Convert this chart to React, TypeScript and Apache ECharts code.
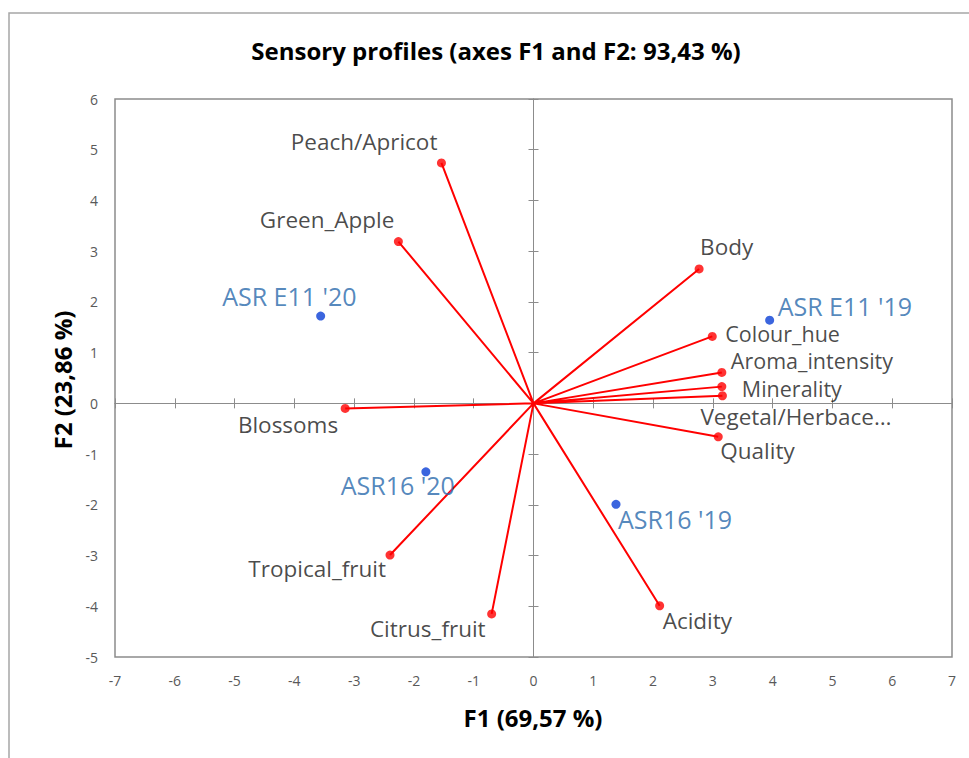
import React, { useEffect, useRef } from "react";
import * as echarts from "echarts";

// Variables (active, red vectors)
const varNames = [
  "Peach/Apricot",
  "Green_Apple",
  "Blossoms",
  "Tropical_fruit",
  "Citrus_fruit",
  "Acidity",
  "Quality",
  "Body",
  "Colour_hue",
  "Aroma_intensity",
  "Minerality",
  "Vegetal/Herbace…",
];
const varF1 = [-1.54, -2.26, -3.15, -2.4, -0.7, 2.11, 3.09, 2.77, 2.99, 3.15, 3.15, 3.16];
const varF2 = [4.74, 3.19, -0.1, -2.99, -4.15, -3.99, -0.66, 2.65, 1.32, 0.61, 0.33, 0.15];

// Observations (blue points)
const obsNames = ["ASR E11 '19", "ASR E11 '20", "ASR16 '20", "ASR16 '19"];
const obsF1 = [3.95, -3.56, -1.8, 1.38];
const obsF2 = [1.64, 1.72, -1.35, -1.99];

const axisMin = { x: -7, y: -5 };
const axisMax = { x: 7, y: 6 };

const TITLE = "Sensory profiles (axes F1 and F2: 93,43 %)";
const X_TITLE = "F1 (69,57 %)";
const Y_TITLE = "F2 (23,86 %)";

// label placement (styling), keyed by name: [dx, dy, align, fontSize?]
const labelLayout: Record<string, [number, number, string, number?]> = {
  "Peach/Apricot": [-4, -21, "right"],
  Green_Apple: [-4, -22, "right"],
  Blossoms: [-7, 16, "right"],
  Tropical_fruit: [-4, 13, "right"],
  Citrus_fruit: [-6, 15, "right"],
  Acidity: [3, 15, "left"],
  Quality: [2, 14, "left"],
  Body: [1, -22, "left"],
  Colour_hue: [13, -2.5, "left", 21.5],
  Aroma_intensity: [9, -12, "left", 21.5],
  Minerality: [20, 1.5, "left", 21.5],
  "Vegetal/Herbace…": [-22, 21, "left"],
  "ASR E11 '19": [8, -14, "left"],
  "ASR E11 '20": [36, -20, "right"],
  "ASR16 '20": [29, 13, "right"],
  "ASR16 '19": [2, 15, "left"],
};

const FONT = "'Open Sans'";

export default function App() {
  const ref = useRef<HTMLDivElement>(null);
  useEffect(() => {
    if (!ref.current) return;
    const chart = echarts.init(ref.current, undefined, { renderer: "svg" });

    const lineData: any[] = [];
    varNames.forEach((_, i) => {
      lineData.push([0, 0]);
      lineData.push([varF1[i], varF2[i]]);
      lineData.push("-");
    });

    const mkLabel = (name: string, color: string, size: number) => {
      const l = labelLayout[name] || [0, 0, "left"];
      return {
        show: true,
        position: "inside",
        offset: [l[0], l[1]],
        align: l[2],
        verticalAlign: "middle",
        formatter: name,
        color,
        fontSize: l[3] || size,
        fontFamily: FONT,
      };
    };

    const baseX = {
      type: "value",
      min: axisMin.x,
      max: axisMax.x,
      interval: 1,
      splitLine: { show: false },
    };
    const baseY = {
      type: "value",
      min: axisMin.y,
      max: axisMax.y,
      interval: 1,
      splitLine: { show: false },
    };
    const zeroLine = { show: true, onZero: true, onZeroAxisIndex: 0, lineStyle: { color: "#8c8c8c", width: 1 } };

    const option: any = {
      animation: false,
      backgroundColor: "#ffffff",
      grid: {
        left: 115,
        top: 99,
        right: 17,
        bottom: 101,
        show: true,
        borderColor: "#8c8c8c",
        borderWidth: 1.5,
        backgroundColor: "transparent",
      },
      xAxis: [
        {
          ...baseX,
          position: "bottom",
          axisLine: { show: false, onZero: false },
          axisTick: { show: false },
          axisLabel: { color: "#595959", fontSize: 14, fontFamily: FONT, margin: 16 },
        },
        {
          ...baseX,
          position: "bottom",
          axisLine: zeroLine,
          axisTick: { show: true, inside: true, length: 5, lineStyle: { color: "#8c8c8c" } },
          axisLabel: { show: false },
        },
        {
          ...baseX,
          position: "bottom",
          axisLine: zeroLine,
          axisTick: { show: true, inside: false, length: 5, lineStyle: { color: "#8c8c8c" } },
          axisLabel: { show: false },
        },
      ],
      yAxis: [
        {
          ...baseY,
          position: "left",
          axisLine: { show: false, onZero: false },
          axisTick: { show: false },
          axisLabel: { color: "#595959", fontSize: 14, fontFamily: FONT, margin: 17 },
        },
        {
          ...baseY,
          position: "left",
          axisLine: zeroLine,
          axisTick: { show: true, inside: true, length: 5, lineStyle: { color: "#8c8c8c" } },
          axisLabel: { show: false },
        },
        {
          ...baseY,
          position: "left",
          axisLine: zeroLine,
          axisTick: { show: true, inside: false, length: 5, lineStyle: { color: "#8c8c8c" } },
          axisLabel: { show: false },
        },
      ],
      graphic: [
        {
          type: "rect",
          shape: { x: 9, y: 13, width: 980, height: 780 },
          style: { fill: "none", stroke: "#a6a6a6", lineWidth: 1.5 },
          silent: true,
        },
        {
          type: "text",
          x: 496,
          y: 50,
          style: {
            text: TITLE,
            fill: "#000",
            font: `bold 24px ${FONT}`,
            textAlign: "center",
            textVerticalAlign: "middle",
          },
        },
        {
          type: "text",
          x: 533,
          y: 717,
          style: {
            text: X_TITLE,
            fill: "#000",
            font: `bold 24px ${FONT}`,
            textAlign: "center",
            textVerticalAlign: "middle",
          },
        },
        {
          type: "text",
          x: 62,
          y: 380,
          rotation: Math.PI / 2,
          style: {
            text: Y_TITLE,
            fill: "#000",
            font: `bold 24px ${FONT}`,
            textAlign: "center",
            textVerticalAlign: "middle",
          },
        },
      ],
      series: [
        {
          type: "line",
          xAxisIndex: 0,
          yAxisIndex: 0,
          data: lineData,
          symbol: "none",
          connectNulls: false,
          lineStyle: { color: "#ff0000", width: 2 },
          silent: true,
          z: 2,
        },
        {
          type: "scatter",
          xAxisIndex: 0,
          yAxisIndex: 0,
          symbolSize: 9,
          itemStyle: { color: "#ff0000" },
          data: varNames.map((n, i) => ({
            name: n,
            value: [varF1[i], varF2[i]],
            label: mkLabel(n, "#1a1a1a", 22.5),
          })),
          z: 3,
        },
        {
          type: "scatter",
          xAxisIndex: 0,
          yAxisIndex: 0,
          symbolSize: 9,
          itemStyle: { color: "#0a3fd6" },
          data: obsNames.map((n, i) => ({
            name: n,
            value: [obsF1[i], obsF2[i]],
            label: mkLabel(n, "#2869ab", 25),
          })),
          z: 3,
        },
      ],
    };
    chart.setOption(option);
    return () => chart.dispose();
  }, []);
  return (
    <div
      ref={ref}
      style={{ position: "fixed", left: 0, top: 0, width: 969, height: 758 }}
    />
  );
}
